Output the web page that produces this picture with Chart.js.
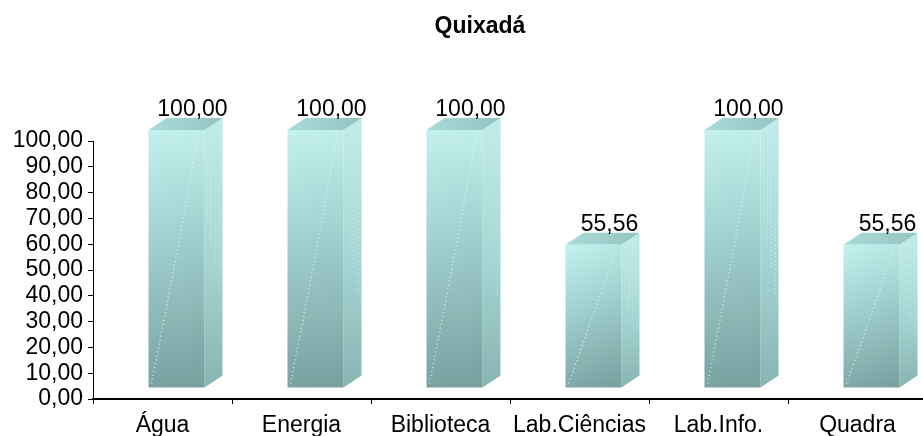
<!DOCTYPE html>
<html>
<head>
<meta charset="utf-8">
<script src="https://cdn.jsdelivr.net/npm/chart.js@4/dist/chart.umd.min.js"></script>
<style>
  html, body { margin: 0; padding: 0; background: #fff; overflow: hidden; }
</style>
</head>
<body>
<canvas id="myChart" width="927" height="436"></canvas>
<script>
const categories = ['Água', 'Energia', 'Biblioteca', 'Lab.Ciências', 'Lab.Info.', 'Quadra'];
const values = [100, 100, 100, 55.56, 100, 55.56];
const chartTitle = 'Quixadá';
const yMin = 0, yMax = 100, yStep = 10;

const FONT = '"Liberation Sans", Arial, sans-serif';
// 3D look: front face is shifted from the category slot, side/top faces go back by DEPTH
const SHIFT_X = 14, SHIFT_Y = -11;
const DEPTH_X = 18, DEPTH_Y = -12;

function fmt(v) { return v.toFixed(2).replace('.', ','); }

const bar3d = {
    id: 'bar3d',
    afterDatasetsDraw(chart) {
        const c = chart.ctx;
        const meta = chart.getDatasetMeta(0);
        meta.data.forEach((bar, i) => {
            const p = bar.getProps(['x', 'y', 'base', 'width'], true);
            const l = p.x - p.width / 2 + SHIFT_X, r = l + p.width;
            const t = p.y + SHIFT_Y, b = p.base + SHIFT_Y;
            c.save();

            // side face
            let g = c.createLinearGradient(r, t, r + DEPTH_X, b);
            g.addColorStop(0, '#bdeae7');
            g.addColorStop(0.5, '#a6d6d3');
            g.addColorStop(1, '#86b4b2');
            c.fillStyle = g;
            c.beginPath();
            c.moveTo(r, t); c.lineTo(r + DEPTH_X, t + DEPTH_Y);
            c.lineTo(r + DEPTH_X, b + DEPTH_Y); c.lineTo(r, b);
            c.closePath(); c.fill();
            // speckles on side
            c.strokeStyle = 'rgba(225,255,253,0.6)';
            c.lineWidth = 1;
            c.setLineDash([1, 3]);
            for (let k = 3; k < DEPTH_X; k += 4) {
                c.beginPath();
                c.moveTo(r + k, t + DEPTH_Y * k / DEPTH_X + 4);
                c.lineTo(r + k, t + (b - t) * (0.3 + k / DEPTH_X * 0.4));
                c.stroke();
            }
            c.setLineDash([]);

            // top face
            g = c.createLinearGradient(l, t, r + DEPTH_X, t + DEPTH_Y);
            g.addColorStop(0, '#a9dbd8');
            g.addColorStop(1, '#93c4c2');
            c.fillStyle = g;
            c.beginPath();
            c.moveTo(l, t); c.lineTo(l + DEPTH_X, t + DEPTH_Y);
            c.lineTo(r + DEPTH_X, t + DEPTH_Y); c.lineTo(r, t);
            c.closePath(); c.fill();

            // front face
            g = c.createLinearGradient(l, t, r, b);
            g.addColorStop(0, '#c4f1ee');
            g.addColorStop(0.4, '#a3d2d0');
            g.addColorStop(1, '#769f9e');
            c.fillStyle = g;
            c.fillRect(l, t, r - l, b - t);
            // diagonal dotted highlight
            c.strokeStyle = 'rgba(220,255,252,0.8)';
            c.lineWidth = 1.5;
            c.setLineDash([1, 3]);
            c.beginPath();
            c.moveTo(l + 3, b - 4);
            c.quadraticCurveTo(l + (r - l) * 0.45, t + (b - t) * 0.55, r - 6, t + 6);
            c.stroke();
            c.setLineDash([]);

            // value label
            c.fillStyle = '#000';
            c.font = '23px ' + FONT;
            c.textAlign = 'center';
            c.textBaseline = 'alphabetic';
            c.fillText(fmt(values[i]), l + 44, t + DEPTH_Y - 2);
            c.restore();
        });

        // title
        c.save();
        c.fillStyle = '#000';
        c.font = 'bold 23px ' + FONT;
        c.textAlign = 'center';
        c.textBaseline = 'alphabetic';
        c.fillText(chartTitle, 480, 33);
        c.restore();
    }
};

const ctx = document.getElementById('myChart').getContext('2d');
const myChart = new Chart(ctx, {
    type: 'bar',
    data: {
        labels: categories,
        datasets: [{
            data: values,
            backgroundColor: 'rgba(0,0,0,0)',
            borderWidth: 0,
            barPercentage: 0.403,
            categoryPercentage: 1
        }]
    },
    options: {
        responsive: false,
        animation: false,
        layout: { padding: { top: 141, left: 0, right: 0, bottom: 0 } },
        plugins: { legend: { display: false }, tooltip: { enabled: false }, title: { display: false } },
        scales: {
            x: {
                grid: { offset: true, drawOnChartArea: false, tickLength: 5, color: '#000' },
                border: { color: '#000', width: 2 },
                ticks: { color: '#000', font: { size: 23, family: FONT }, padding: 8, maxRotation: 0, autoSkip: false },
                afterFit(s) { s.height = 37; }
            },
            y: {
                min: yMin, max: yMax,
                grid: { drawOnChartArea: false, tickLength: 5, color: '#000' },
                border: { color: '#000', width: 1 },
                ticks: { stepSize: yStep, autoSkip: false, color: '#000', font: { size: 23, family: FONT }, padding: 5, callback: v => fmt(v) },
                afterFit(s) { s.width = 93; }
            }
        }
    },
    plugins: [bar3d]
});
</script>
</body>
</html>
